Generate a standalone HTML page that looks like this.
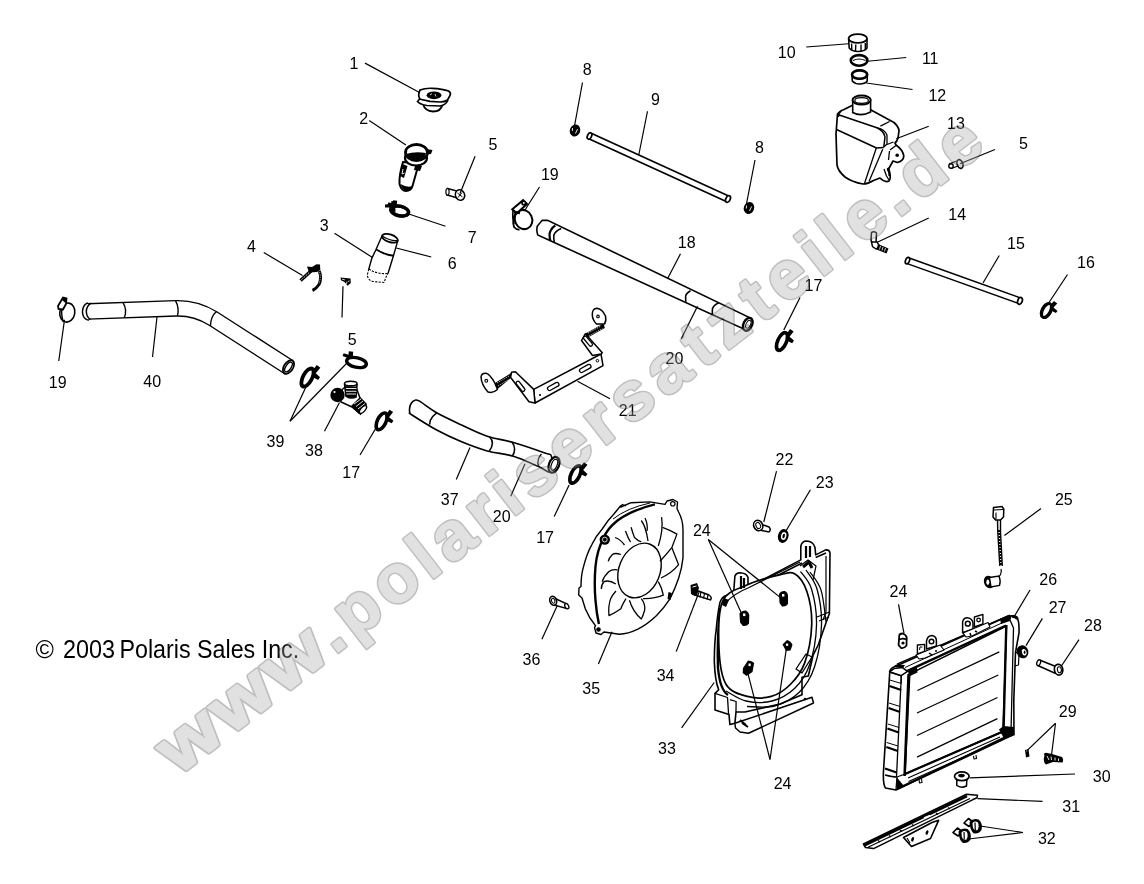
<!DOCTYPE html>
<html><head><meta charset="utf-8"><style>
html,body{margin:0;padding:0;background:#fff;width:1144px;height:884px;overflow:hidden}
svg{display:block;will-change:transform}
.o{fill:#fff;stroke:#000}
.l{fill:none;stroke:#000}
.d{fill:#000;stroke:#000;stroke-width:1}
.ld line{stroke:#000;stroke-width:1.2}
.lb{font-family:"Liberation Sans",sans-serif;font-size:16px;fill:#000;text-anchor:middle}
</style></head><body>
<svg width="1144" height="884" viewBox="0 0 1144 884">
<rect width="1144" height="884" fill="#fff"/>
<g class="parts">
<!-- Hose 40 -->
<g>
<path d="M 87.5 311.4 L 176 308.3 Q 196 307.8 213 318.5 L 288.5 367" stroke="#000" stroke-width="16.8" fill="none"/>
<path d="M 87.5 311.4 L 176 308.3 Q 196 307.8 213 318.5 L 288.5 367" stroke="#fff" stroke-width="14" fill="none"/>
<path d="M 88 303 Q 85 303.5 83.5 307 Q 81.5 311.5 83.5 316.5 Q 85.5 320 89 320" fill="#fff" stroke="#000" stroke-width="1.5"/>
<path d="M 91 303.2 Q 86.5 306 86.3 311.5 Q 86.5 317 90.5 319.6" fill="none" stroke="#000" stroke-width="1.5"/>
<ellipse cx="288.5" cy="367" rx="4.5" ry="7.6" transform="rotate(33 288.5 367)" class="o" stroke-width="1.8"/>
<ellipse cx="288.5" cy="367" rx="2.6" ry="5.6" transform="rotate(33 288.5 367)" class="l" stroke-width="1.3"/>
<path d="M 123 302.6 Q 127.5 310 124.3 317.8" class="l" stroke-width="1.4"/>
<path d="M 175.5 300.6 Q 179.5 308 177.5 315.8" class="l" stroke-width="1.4"/>
<path d="M 216.5 311.5 Q 210.5 316.5 210.5 326" class="l" stroke-width="1.4"/>
</g>
<!-- Hose 37 -->
<g>
<path d="M 419.0 400.9 C 422.7 402.9 429.7 408.8 436.7 412.8 C 443.7 416.8 452.6 420.8 461.0 424.7 C 469.4 428.6 478.5 433.2 487.2 436.2 C 495.9 439.2 503.8 439.7 513.4 442.5 C 523.0 445.3 538.5 450.7 544.9 453.0 C 551.2 455.3 550.6 453.3 551.5 456.5 C 552.4 459.7 552.6 470.3 550.5 472.0 C 548.4 473.7 544.8 469.2 538.6 466.6 C 532.4 464.0 522.0 458.8 513.4 456.2 C 504.8 453.6 495.9 453.3 487.2 450.9 C 478.5 448.4 469.4 445.0 461.0 441.5 C 452.6 438.0 444.9 434.4 436.7 430.0 C 428.5 425.6 416.5 417.9 412.0 415.0 C 407.5 412.1 410.2 413.8 409.8 412.5 C 409.4 411.2 409.5 408.6 409.8 407.0 C 410.1 405.4 410.7 404.1 411.5 403.0 C 412.3 401.9 413.2 401.0 414.5 400.6 C 415.8 400.2 415.3 398.9 419.0 400.9 Z" class="o" stroke-width="1.6"/>
<ellipse cx="554" cy="464.8" rx="5" ry="8.2" transform="rotate(22 554 464.8)" class="o" stroke-width="2.2"/>
<ellipse cx="554.3" cy="464.8" rx="2.8" ry="5.8" transform="rotate(22 554.3 464.8)" class="l" stroke-width="1.2"/>
<path d="M 436.7 412.8 Q 432.7 415.6 430.3 420.3 L 429.6 424.7" class="l" stroke-width="1.5"/>
<path d="M 489.5 437 Q 495.5 442.5 489.3 451" class="l" stroke-width="1.5"/>
<path d="M 512 442 Q 517 449 512.4 456.2" class="l" stroke-width="1.5"/>
<path d="M 541.5 454 Q 536.5 459 538.4 466.5" class="l" stroke-width="1.3"/>
</g>
<!-- Hose 18 -->
<g>
<path d="M 542.2 220.2 L 547.6 220.4 L 750 317.8 L 744.3 329.2 L 550.4 240.8 L 537.7 234.9 Q 536.3 231 537.2 226.3 Z" class="o" stroke-width="1.6"/>
<path d="M 555.3 225.4 Q 550.4 229 549.5 234 Q 549.5 238 550.4 240.8" fill="none" stroke="#000" stroke-width="2.2"/>
<path d="M 561.2 228.6 Q 555.3 231 553.8 235.3 Q 553.5 239 554.4 242" fill="none" stroke="#000" stroke-width="1.6"/>
<path d="M 690.5 290.8 Q 686 293.5 685.6 296.5 L 685.8 301.7" fill="none" stroke="#000" stroke-width="1.6"/>
<path d="M 718.5 303 Q 713.5 305 712.4 309 L 712.3 314" fill="none" stroke="#000" stroke-width="1.6"/>
<ellipse cx="747.8" cy="324.3" rx="4.3" ry="6.8" transform="rotate(25 747.8 324.3)" class="o" stroke-width="2.4"/>
<ellipse cx="748.3" cy="324.3" rx="2.2" ry="4.2" transform="rotate(25 748.3 324.3)" class="l" stroke-width="1"/>
</g>
<!-- Tube 9 -->
<g>
<path d="M 590 136 L 728 199" stroke="#000" stroke-width="7.6" fill="none"/>
<path d="M 590 136 L 728 199" stroke="#fff" stroke-width="4.2" fill="none"/>
<ellipse cx="589.5" cy="136" rx="2" ry="3.4" transform="rotate(25 589.5 136)" class="o" stroke-width="1.7"/>
<ellipse cx="728" cy="199" rx="2.2" ry="3.5" transform="rotate(25 728 199)" class="o" stroke-width="1.7"/>
</g>
<!-- Tube 15 -->
<g>
<path d="M 907.5 260.6 L 1020 300.9" stroke="#000" stroke-width="7.4" fill="none"/>
<path d="M 907.5 260.6 L 1020 300.9" stroke="#fff" stroke-width="4.4" fill="none"/>
<ellipse cx="907.5" cy="260.6" rx="2" ry="3.4" transform="rotate(20 907.5 260.6)" class="o" stroke-width="1.7"/>
<ellipse cx="1020" cy="300.9" rx="2.2" ry="3.5" transform="rotate(20 1020 300.9)" class="o" stroke-width="1.7"/>
</g>
<!-- Part 1 cap -->
<g>
<path d="M 423 104 Q 425 111 433 111.5 Q 441 111.5 442.5 104.5" class="o" stroke-width="1.8"/>
<path d="M 420 98.5 L 417.5 101.5 Q 420 104.5 427 105.5 L 440 106 Q 446 105 448 100" class="o" stroke-width="1.6"/>
<path d="M 420 90 Q 425 88 432 88.3 Q 443 88.8 448.5 91 Q 451.5 93 450 95.5 L 447.5 100 Q 445 102 440 102 L 430 101.3 L 420.5 99.3 Q 418 97 419 93 Z" class="o" stroke-width="1.7"/>
<ellipse cx="434" cy="95.3" rx="7.4" ry="3.9" fill="#000"/>
<path d="M 430 95 L 432 93.5 M 435 94 L 436 96.5" stroke="#fff" stroke-width="0.8"/>
</g>
<!-- Part 2 filler neck -->
<g>
<path d="M 403 162 Q 399 175 399.5 184 Q 401.5 191 406 191 Q 411 191 412.5 186 L 419 163 Z" class="o" stroke-width="2"/>
<path d="M 400.5 184 Q 403 191 406 191 Q 411 191 412.5 186 Q 407 188 400.5 184 Z" fill="#000"/>
<path d="M 402.5 164 L 400 176 L 404 178 L 407.5 166 Z" fill="#000"/><path d="M 403 169 L 402 174 L 404.5 173" stroke="#fff" stroke-width="0.9" fill="none"/><path d="M 415 166 L 422 166 L 420 171 L 414 170 Z" fill="#000"/>
<ellipse cx="416" cy="158" rx="11" ry="7.5" class="o" stroke-width="2.2"/>
<path d="M 426 149 L 432.5 150 L 431 154 L 426 154.5 Z" fill="#000"/>
<ellipse cx="416.5" cy="152.5" rx="11" ry="8" class="o" stroke-width="2.8"/>
<ellipse cx="416" cy="150.2" rx="8.5" ry="3.6" fill="#fff"/>
<path d="M 406 154 Q 415 151 426 153 Q 425 159 416 159.5 Q 408 159 406 154 Z" fill="#000"/>
</g>
<!-- 5 screw top -->
<g>
<path d="M 447.5 188.5 L 457 191 L 456 197.5 L 447 195 Z" class="o" stroke-width="1.4"/>
<ellipse cx="447.5" cy="191.8" rx="1.6" ry="3.3" class="o" stroke-width="1.2"/>
<ellipse cx="460" cy="195" rx="4.6" ry="5.4" transform="rotate(-20 460 195)" class="o" stroke-width="1.5"/>
<path d="M 457.5 193 L 462.5 197 M 462 192.5 L 458 197.5" class="l" stroke-width="1"/>
</g>
<!-- 7 clamp -->
<g>
<ellipse cx="399.5" cy="211" rx="9" ry="5" transform="rotate(12 399.5 211)" fill="none" stroke="#000" stroke-width="3.2"/>
<path d="M 385 204.5 L 391 204 L 391.5 201 L 395 201.5 L 395.5 212 L 391 211 L 389.5 207.5 L 385 207.5 Z" fill="#000"/>
</g>
<!-- 6 hose piece -->
<g fill="none" stroke="#000">
<path d="M 382.4 235 L 376 249.5 L 371.9 258.1 L 369 268 L 367.3 275 Q 368 280.5 373 281.5 L 384 282.5 L 386.3 276.5 L 388.5 270 L 393.6 255.3 L 397.8 240.6 Z" fill="#fff" stroke="none"/>
<path d="M 382.4 235 L 376 249.5 L 371.9 258.1 L 368.8 269" stroke-width="1.4"/>
<path d="M 397.8 240.6 L 393.6 255.3 L 388 273.5" stroke-width="1.4"/>
<path d="M 368.8 269 L 367.3 275 Q 368 280.5 373 281.5 L 384 282.5 L 386.3 276.5 L 388 273.5" stroke-width="1.1" stroke-dasharray="2.2 1.3"/>
<path d="M 368.8 269 Q 377 274.5 388 273.5" stroke-width="1.1" stroke-dasharray="2.2 1.3"/>
<path d="M 376.3 249.5 Q 384 254.5 393.6 255.7" stroke-width="2"/>
<ellipse cx="390" cy="238.3" rx="8.2" ry="3.8" transform="rotate(18 390 238.3)" stroke-width="1.8" fill="#fff"/>
<path d="M 383 236.5 Q 390 241 397 240.5" stroke-width="1.2"/>
</g>
<!-- 4 clip -->
<g>
<path d="M 300.5 280.5 L 311 271" stroke="#000" stroke-width="3.4" fill="none"/>
<path d="M 300.5 280.5 L 311 271" stroke="#fff" stroke-width="0.8" fill="none" stroke-dasharray="1.5 1"/>
<path d="M 307 266.5 L 312 267 L 316.5 264.3 L 320 264.5 L 320.3 270 L 317 272 L 309 272.5 Z" fill="#000"/>
<path d="M 319.3 271 Q 322 278 319 284.5 Q 316 289 312.5 290.5" stroke="#000" stroke-width="3" fill="none"/>
<path d="M 319.5 272 Q 321.5 278 318.7 284" stroke="#fff" stroke-width="0.7" fill="none" stroke-dasharray="1.2 1.2"/>
</g>
<!-- 5 small screw -->
<g>
<path d="M 340.5 277.6 L 350.5 278.5 L 350.8 283 L 347.6 285.8 L 344.5 282 L 341 280.2 Z" fill="#000"/>
<path d="M 342 279 L 345 280 M 347 281.5 L 346.5 284 M 349 280.5 L 348.7 282" stroke="#fff" stroke-width="0.8"/>
</g>
<!-- 19 clamp left -->
<g>
<ellipse cx="67.3" cy="312.6" rx="7.5" ry="9.6" transform="rotate(10 67.3 312.6)" class="o" stroke-width="1.6"/>
<path d="M 63.5 304 Q 60 312 63 321" class="l" stroke-width="1.4"/>
<path d="M 58 306 L 63 297.5 L 66.5 298.5 L 66 304 L 63 309.5 L 58.5 309 Z" class="o" stroke-width="1.8"/>
<path d="M 63 297.5 L 66.5 298.5 L 65.5 303 L 62 300 Z" fill="#000"/>
</g>
<!-- clamps type A (dark oval ring with tab) -->
<defs>
<g id="clA">
<ellipse cx="0" cy="0" rx="4.3" ry="9" fill="none" stroke="#000" stroke-width="3.6"/>
<path d="M 1 -7.5 L 2.2 -14 L 6.5 -13.3 L 5 -7 L 10.5 -5.5 L 10 -2.5 L 3.5 -2.5 Z" fill="#000"/>
</g>
<g id="clB">
<ellipse cx="0" cy="0" rx="10" ry="4.8" fill="none" stroke="#000" stroke-width="3.4"/>
<path d="M -8 -2.5 L -15 -3.5 L -14.5 -6.5 L -9.5 -6 L -9.8 -9.5 L -5.5 -9.8 L -4.5 -3 Z" fill="#000"/>
</g>
</defs>
<use href="#clA" transform="translate(381.6 421.4) rotate(25)"/>
<use href="#clA" transform="translate(307.5 377.5) rotate(28) scale(1.05 1.1)"/>
<use href="#clA" transform="translate(575.5 474.5) rotate(26) scale(1 1.05)"/>
<use href="#clA" transform="translate(782 341.5) rotate(24) scale(1 1.05)"/>
<use href="#clA" transform="translate(1046.5 310.5) rotate(28) scale(0.95 0.85)"/>
<use href="#clB" transform="translate(356.5 362.5) rotate(12)"/>
<use href="#clB" transform="translate(400 211) rotate(12) scale(0.9 0.95)"/>
<!-- 19 clamp mid -->
<g>
<ellipse cx="523.5" cy="219.5" rx="8.6" ry="9.8" transform="rotate(-25 523.5 219.5)" class="o" stroke-width="2"/>
<path d="M 517 211 Q 511.5 218 514 227 Q 516.5 230 519.5 229.5" class="l" stroke-width="1.8"/>
<path d="M 513 210 Q 512 217 514 224" class="l" stroke-width="1.6"/>
<path d="M 512.3 209.3 L 523.1 200.2 L 527 204 L 516.8 213.3 Z" class="o" stroke-width="2"/>
<circle cx="523.8" cy="203" r="2.6" fill="#000"/>
<circle cx="523.8" cy="203" r="0.9" fill="#fff"/>
<path d="M 514 212 L 520 213" stroke="#000" stroke-width="2.4"/>
</g>
<!-- 8 small clamps -->
<g>
<ellipse cx="575" cy="130.5" rx="5.2" ry="6" transform="rotate(20 575 130.5)" fill="#000"/>
<path d="M 572.5 128 L 572.3 131 M 577.5 129 L 575.5 133.5" stroke="#fff" stroke-width="0.9"/>
<ellipse cx="749" cy="208" rx="5.2" ry="6" transform="rotate(20 749 208)" fill="#000"/>
<path d="M 746.5 205.5 L 746.3 208.5 M 751.5 206.5 L 749.5 211" stroke="#fff" stroke-width="0.9"/>
</g>
<!-- 38 tee fitting -->
<g>
<path d="M 339 392 L 349 384 L 356 387 L 360 398 L 366 404 L 360.5 414 L 352 407 L 341 402 Z" class="o" stroke-width="1.5"/>
<path d="M 344.5 384 L 346 396 Q 351 399.5 356 397 L 357 384.5 Q 351 381 344.5 384 Z" class="o" stroke-width="1.6"/>
<ellipse cx="350.8" cy="383.5" rx="6.2" ry="2.3" class="o" stroke-width="1.5"/>
<path d="M 345 386 L 357 386.5 L 356.5 396.5 Q 351 399 346 396 Z" fill="#000"/><path d="M 346 388.5 L 356.5 388.5 M 346 391.3 L 356.5 391.3 M 346.3 394 L 356 394" stroke="#fff" stroke-width="0.9"/>
<path d="M 351 406 L 360 397 L 367 405 L 359 414 Z" fill="#000"/>
<path d="M 354 404 L 361 399 M 356 406.5 L 363 401 M 358 409 L 365 403.5" stroke="#fff" stroke-width="0.9"/>
<ellipse cx="363" cy="409.5" rx="2.2" ry="4.8" transform="rotate(40 363 409.5)" class="o" stroke-width="1.4"/>
<circle cx="337.5" cy="395" r="7.2" fill="#000"/>
<circle cx="334.5" cy="392" r="1.1" fill="#fff"/>
</g>
<!-- 21 bracket -->
<g stroke-linejoin="round">
<path d="M 533.7 389.4 L 601 354 L 603 365.6 L 535 403 Z" class="o" stroke-width="1.5"/>
<path d="M 511.5 372.3 L 515.4 371.8 L 533.7 389.4 L 535 403 L 529 401.7 L 510.5 377.2 Z" class="o" stroke-width="1.5"/>
<path d="M 494.6 383.3 L 511.5 372.8 L 511 378 L 497 389.4 Z" fill="#000"/>
<path d="M 497 383 L 509 376 M 498 386 L 509.5 379" stroke="#fff" stroke-width="0.7" stroke-dasharray="1.5 1"/>
<path d="M 481 377 Q 481.5 373 486 373.2 Q 490 374 494.8 383 L 497.5 389.5 Q 493 393.5 488 392 Q 481.5 385 481 377 Z" class="o" stroke-width="1.5"/>
<circle cx="486.3" cy="380.8" r="1.4" fill="none" stroke="#000" stroke-width="1.1"/>
<path d="M 581.5 340.5 L 585.3 333.8 L 602.3 352.7 L 601 354 L 592.5 355.5 Z" class="o" stroke-width="1.5"/>
<path d="M 585.1 333.8 L 603.5 323.4 L 604.8 328 L 588 337.5 Z" fill="#000"/>
<path d="M 588 333 L 601 326 M 589 336 L 602.5 328.5" stroke="#fff" stroke-width="0.7" stroke-dasharray="1.5 1"/>
<path d="M 592.3 315 Q 592 308.5 597 308.3 Q 602 308.8 605.5 316 Q 606.5 321 604.5 324 L 596.5 324 Q 592.5 320 592.3 315 Z" class="o" stroke-width="1.5"/>
<circle cx="598" cy="316.4" r="1.3" fill="none" stroke="#000" stroke-width="1.1"/>
<rect x="514.5" y="384.5" width="12" height="3.6" rx="1.8" transform="rotate(52 520.5 386.3)" class="o" stroke-width="1.3"/>
<rect x="547" y="384.5" width="12.5" height="4" rx="2" transform="rotate(-29 553.2 386.5)" class="o" stroke-width="1.3"/>
<rect x="579" y="366.5" width="12.5" height="4" rx="2" transform="rotate(-29 585.2 368.5)" class="o" stroke-width="1.3"/>
<rect x="582" y="339.5" width="12" height="3.4" rx="1.7" transform="rotate(50 588 341.2)" class="o" stroke-width="1.3"/>
<circle cx="540" cy="395" r="1.1" fill="#000"/>
<circle cx="597.4" cy="360.7" r="1.3" fill="none" stroke="#000" stroke-width="1"/>
</g>
<!-- 10 cap, 11 ring, 12 ring -->
<g>
<path d="M 848.6 38.5 L 849.2 48 Q 852 51.5 858 51.5 Q 864.5 51.5 867 48 L 867 38.5" class="o" stroke-width="1.6"/>
<ellipse cx="857.8" cy="38.5" rx="9.2" ry="4.4" class="o" stroke-width="1.8"/>
<path d="M 851.6 43.5 L 851.8 50 M 855.8 44.5 L 855.5 51 M 861 44.5 L 861 51 M 865.3 43 L 865.3 49.5" class="l" stroke-width="1.4"/>
<ellipse cx="859.1" cy="60.4" rx="8.3" ry="5.3" fill="none" stroke="#000" stroke-width="2.6"/>
<path d="M 853 60.5 Q 859 57.5 865.5 60.5" class="l" stroke-width="1.2"/>
<path d="M 852 74.5 L 852.3 81 Q 855 84 859.5 84 Q 865 84 867.2 81 L 867.3 74.5" class="o" stroke-width="1.6"/>
<ellipse cx="859.6" cy="74.6" rx="7.6" ry="4.2" fill="#fff" stroke="#000" stroke-width="2.6"/>
</g>
<!-- 13 tank -->
<g stroke-linejoin="round">
<path d="M 837.5 114 Q 840 110.5 844 109.5 L 852 105.5 L 871 110 L 894 122.5 Q 899 127 899 131 L 898 138 Q 897 141.5 895 143 L 896 145 Q 903 150 903.8 156 Q 903.5 161 897.5 162.5 L 893 161 L 888 170 Q 892 177 889 181 Q 885 183 880 178 L 873.5 180.5 Q 868 184 863 184 Q 852 182 845 177 Q 838 171 837 165 L 836 134 Z" class="o" stroke-width="1.7"/>
<path d="M 837.7 114.5 L 876.9 127.8 Q 884 131 885 137 L 883.8 147" class="l" stroke-width="1.5"/>
<path d="M 842 110 Q 838.5 113 838.5 117" class="l" stroke-width="1.3"/>
<path d="M 836.5 129.5 L 876.5 148 L 883.8 147.5" class="l" stroke-width="1.5"/>
<path d="M 876.3 148 L 864.5 183.5 M 882.7 149.2 L 869 181.5" class="l" stroke-width="1.3"/>
<path d="M 880.4 126.1 L 889.6 121.5 M 876.9 127.8 Q 884 128.5 887 135 L 887 144 L 883.8 147" class="l" stroke-width="1.3"/>
<path d="M 887 144.5 L 893.5 142" class="l" stroke-width="1.3"/>
<path d="M 890 150 L 896 145.5 M 889.5 151 L 888.5 160" class="l" stroke-width="1.3"/>
<circle cx="897.2" cy="155.3" r="1.8" fill="#000"/>
<path d="M 884 169 L 886.5 176 L 889 180" class="l" stroke-width="1.3"/>
<path d="M 887.5 168 Q 890 171 889.5 176" stroke="#000" stroke-width="2.2" fill="none"/>
<path d="M 852.7 100.5 L 852.7 112.5 Q 861 117 870.6 112 L 870.6 100.5" class="o" stroke-width="1.6"/>
<ellipse cx="861.6" cy="100.1" rx="9.1" ry="4.5" class="o" stroke-width="2"/>
<ellipse cx="861.6" cy="100.5" rx="6.8" ry="2.8" class="l" stroke-width="1.2"/>
</g>
<!-- 5 screw right -->
<g>
<path d="M 950 163.5 L 958.5 160.5 L 960.5 165 L 951.5 168.5 Z" class="o" stroke-width="1.3"/>
<circle cx="951" cy="166" r="2.2" class="o" stroke-width="1.4"/>
<ellipse cx="960" cy="164" rx="2.8" ry="4.5" transform="rotate(-20 960 164)" class="o" stroke-width="1.6"/>
</g>
<!-- 14 fitting -->
<g>
<path d="M 871.5 232.5 L 871 240 Q 871 242 873 243 L 876 243.5 L 876.5 233 Q 874 231 871.5 232.5 Z" class="o" stroke-width="1.5"/>
<path d="M 871.5 242 L 872.5 246.5 L 876 249 L 880 247 L 877 242 Z" class="o" stroke-width="1.4"/>
<path d="M 878 244 L 888.5 248.5 L 886.5 253.5 L 876.5 249.5 Z" fill="#000"/>
<path d="M 880.5 246 L 879.5 249.5 M 883 247 L 882 250.5 M 885.5 248 L 884.5 251.5" stroke="#fff" stroke-width="0.8"/>
</g>
<!-- 35 fan -->
<g stroke-linejoin="round">
<path d="M 620.9 507 L 631.1 502.7 L 649.8 501.9 L 665 504.4 L 667 501 L 673 499.5 L 677.5 502 L 677 508.5 L 678.6 512 Q 683 520 683 530 L 683 557.9 Q 682 568 678.6 578.3 Q 675 589 670.1 598.6 Q 664 608 656.6 615.6 Q 648 624 637.9 629.2 Q 628 634 619.2 634.3 L 604 632 L 601 634.5 L 596 633 L 594.5 627.5 L 595.5 625.8 Q 589 618 585.3 608.8 L 582 598 L 578.7 595 L 579 588 L 581 586.5 Q 581 575 583.6 566.4 Q 587 553 592 544.3 Q 596 536 602.2 529 Q 608 520 614.1 513.8 L 618 509 L 620.5 506 Z" class="o" stroke-width="1.4"/>
<path d="M 654.9 504.4 Q 632 510 617.5 520.5 Q 607 529 603.9 537.5 Q 597 550 595.5 566.4 Q 594 584 595.5 600.3 Q 596.5 613 598.9 624" fill="none" stroke="#000" stroke-width="2.4"/>
<path d="M 650 503 Q 627 508 613 519" fill="none" stroke="#000" stroke-width="1"/>
<ellipse cx="639.5" cy="570.5" rx="20.5" ry="28.3" transform="rotate(22 639.5 570.5)" class="o" stroke-width="1.4"/>
<g fill="none" stroke="#000" stroke-width="1.3">
<path d="M 641.3 520.5 Q 646 527 648 541"/>
<path d="M 645 518 Q 648 524 647 531"/>
<path d="M 661.6 517.2 Q 663.5 530 658.3 546"/>
<path d="M 662.5 527.3 Q 670 530 676.9 534.1 Q 674 542 671.8 547.7 Q 666 555 660 561.3"/>
<path d="M 672 548 L 678.6 564.7 Q 672 573 661 578"/>
<path d="M 658.3 581.7 Q 662 588 663.3 595.2 Q 654 599 643 598.6"/>
<path d="M 641.3 598.6 Q 645.5 604 644.7 610 Q 643 616 641.3 619 Q 633 612 629.4 600.3"/>
<path d="M 626 598.6 Q 622 605 620.9 608.8 Q 615 613 609 615.6 Q 608 606 610.7 598.6 Q 613 594 616 591"/>
<path d="M 615.8 584 Q 609 579.5 604 581.7 Q 601 585 601.4 589"/>
<path d="M 617.5 569.8 Q 612 569 609 571.5 Q 604 576 602.2 581.7"/>
<path d="M 620.9 554.5 Q 615 552.5 612.4 554.5 Q 609 558 608.2 561.3"/>
<path d="M 624.5 545 Q 620 539 615 537.5"/>
<path d="M 631.1 527.3 Q 633 534 634.5 537.5 Q 638 541 641.3 541.8"/>
<path d="M 625.5 531 Q 628 538 630.5 542"/>
</g>
<circle cx="604.8" cy="539.6" r="5.2" fill="#000"/>
<circle cx="604.8" cy="539.6" r="2.4" fill="none" stroke="#fff" stroke-width="0.8"/>
<circle cx="672.8" cy="503.8" r="2.2" fill="none" stroke="#000" stroke-width="1.2"/>
<path d="M 668.5 592 L 671.8 593 L 670.5 600 L 667.5 599 Z" fill="#000"/>
<circle cx="598.5" cy="629.5" r="2.3" fill="#000"/>
<path d="M 620 507 L 622.5 504.5 L 626 506" class="l" stroke-width="1.3"/>
</g>
<!-- 36 bolt -->
<g>
<path d="M 553 597.5 L 566 603.5 Q 568.5 606 566.5 608.5 L 552 604.5 Z" class="o" stroke-width="1.5"/>
<ellipse cx="566.8" cy="606.2" rx="1.8" ry="2.8" transform="rotate(-30 566.8 606.2)" class="o" stroke-width="1.3"/>
<ellipse cx="553.2" cy="600.8" rx="3.3" ry="4.6" transform="rotate(-20 553.2 600.8)" class="o" stroke-width="1.6"/>
<ellipse cx="553.2" cy="600.8" rx="1.6" ry="2.5" transform="rotate(-20 553.2 600.8)" class="l" stroke-width="1"/>
</g>
<!-- 34 bolt -->
<g>
<path d="M 693 589 L 709 595 Q 712.5 597.5 710.5 600 L 693 594.5 Z" class="o" stroke-width="1.5"/>
<path d="M 697.5 591 L 696.5 596 M 701 592 L 700 597.5 M 704.5 593.5 L 703.5 598.5 M 708 595 L 707 599.5" class="l" stroke-width="1.2"/>
<path d="M 690.5 585 L 697 583 L 699 588 L 696 596 L 691 594 Z" fill="#000"/>
<path d="M 692.5 587 L 696.5 586" stroke="#fff" stroke-width="0.9"/>
</g>
<!-- 22 bolt, 23 nut -->
<g>
<path d="M 758 523 L 769 527 Q 771.5 529.5 769 532 L 757 529.5 Z" class="o" stroke-width="1.5"/>
<ellipse cx="758.2" cy="525.5" rx="4.4" ry="5.4" transform="rotate(-25 758.2 525.5)" class="o" stroke-width="1.6"/>
<ellipse cx="758.2" cy="525.5" rx="2.2" ry="3.2" transform="rotate(-25 758.2 525.5)" class="l" stroke-width="1"/>
<ellipse cx="783.2" cy="536" rx="5.3" ry="7" transform="rotate(15 783.2 536)" fill="#000"/>
<ellipse cx="783.7" cy="536" rx="2.6" ry="4" transform="rotate(15 783.7 536)" fill="#fff"/>
<ellipse cx="783.7" cy="536" rx="1.2" ry="2.2" transform="rotate(15 783.7 536)" fill="#000"/>
</g>
<!-- 33 shroud -->
<g stroke-linejoin="round">
<path d="M 734.9 723.3 L 812 697.2 L 813.5 703 L 748.5 733.3 L 740 732 L 735.5 728 Z" class="o" stroke-width="1.5"/>
<path d="M 720 602.2 Q 722 597 726 595.5 L 733.6 593.5 L 734.9 576 Q 736 573 740 572.8 Q 746 573 748 577.3 L 748 587.3 L 800.8 559.9 L 800.8 546.2 Q 802 541 806.5 541 Q 813 541.2 815 547.4 L 815.7 554.9 L 825.7 549.9 Q 829.5 549.5 830 553 L 829.4 613.4 L 826.3 622.1 L 818.2 645 L 813.2 654.9 L 808.3 676 L 802 677.3 L 802 694.7 L 780 704 L 745 712 L 736 712 L 734.9 723.3 L 729.9 724.6 L 729 714.6 L 715 710 L 715 693.4 L 718.7 689.7 Q 715 681 714.3 661.1 Q 714.5 640 716.2 630 Q 717.5 614 720 602.2 Z" class="o" stroke-width="1.6"/>
<path d="M 715 693.4 L 727.5 697.5 L 728.6 714.6" class="l" stroke-width="1.3"/>
<path d="M 729.9 699.7 L 736.1 701.5 L 736 712" class="l" stroke-width="1.3"/>
<path d="M 724 603 Q 734 594 748 587.3" class="l" stroke-width="1.2"/>
<path d="M 748 590.5 L 802 563 M 815.7 557.5 L 826 553" class="l" stroke-width="1.5"/>
<path d="M 826 556 L 826 612 L 823 620" class="l" stroke-width="1.2"/>
<path d="M 720 608 Q 717 640 718 668 Q 720 690 728 695" class="l" stroke-width="2.4"/>
<path d="M 723 607 Q 727 598 740 594" class="l" stroke-width="1.2"/>
<path d="M 722.6 601.3 C 727.4 590.6 738.2 589.1 747.5 584.7 C 756.8 580.4 770.5 577.0 778.4 575.2 C 786.3 573.4 790.2 571.2 795.0 574.0 C 799.8 576.8 804.2 583.3 807.0 591.8 C 809.8 600.3 812.1 613.1 811.7 625.0 C 811.3 636.9 808.2 653.2 804.6 663.1 C 801.0 673.0 795.8 679.0 790.3 684.5 C 784.8 690.0 778.4 694.4 771.3 696.4 C 764.2 698.4 755.0 698.4 747.5 696.4 C 740.0 694.4 730.9 692.4 726.1 684.5 C 721.4 676.6 719.6 662.7 719.0 648.8 C 718.4 634.9 717.9 612.0 722.6 601.3 Z" class="o" stroke-width="1.7"/>
<path d="M 800.5 571.5 C 802.3 574.4 808.8 580.1 811.5 589.0 C 814.2 597.9 816.8 612.3 816.5 625.0 C 816.2 637.7 813.2 654.4 809.5 665.0 C 805.8 675.6 800.8 682.5 794.5 688.5 C 788.2 694.5 780.1 698.9 772.0 701.0 C 763.9 703.1 753.7 702.7 746.0 701.0 C 738.3 699.3 729.3 692.7 726.0 691.0" class="l" stroke-width="1.3"/>
<path d="M 806.0 570.0 C 807.8 573.2 814.4 579.8 817.0 589.0 C 819.6 598.2 821.9 612.0 821.5 625.0 C 821.1 638.0 818.2 655.8 814.5 667.0 C 810.8 678.2 805.7 686.0 799.0 692.5 C 792.3 699.0 783.2 703.7 774.5 706.0 C 765.8 708.3 751.6 706.4 747.0 706.5" class="l" stroke-width="1.3"/>
<path d="M 810.0 572.0 C 811.8 575.0 818.3 581.7 821.0 590.0 C 823.7 598.3 825.2 616.7 826.0 622.0" class="l" stroke-width="1.2"/>
<path d="M 724 604 Q 735 593 748 588 L 800 562" class="l" stroke-width="1.2"/>
<path d="M 796 669 L 806 654 L 812 657 L 802 673 Z" class="l" stroke-width="1.3"/>
<path d="M 800 566 L 808 560 L 816 566 L 813 580" class="l" stroke-width="1.2"/>
<path d="M 803 567 L 809 562 L 812 568" stroke="#000" stroke-width="3" fill="none"/>
<path d="M 817 617 L 829.5 612" class="l" stroke-width="1.2"/>

<path d="M 819 621 L 829 617" class="l" stroke-width="1.2"/>
<path d="M 740 720 L 746 725 M 742 723 L 748 727" stroke="#000" stroke-width="2"/>
<circle cx="805" cy="699" r="1.3" fill="#000"/>
<path d="M 741 576 L 741 589 M 744 578 L 744 588" stroke="#000" stroke-width="2.2"/>
<path d="M 806 546 L 806 558 M 810 546 L 810 557" stroke="#000" stroke-width="2.2"/>
<path d="M 724 598 L 722 605 L 726 607 L 729 600 Z" fill="#000"/>
</g>
<!-- 24 tabs on shroud -->
<g>
<path d="M 779 594 Q 781 590.5 785 591 Q 788 592.5 788 596 L 788 604 Q 786 607 782 606.5 L 779.5 603 Z" fill="#000"/>
<rect x="782" y="594" width="2.4" height="2.6" fill="#fff"/>
<path d="M 739.5 613.5 Q 741.5 610.5 746 610.5 Q 749 612 749.3 615 L 749 623.5 Q 747 626.5 743 626 L 740 622.5 Z" fill="#000"/>
<rect x="743" y="613.5" width="2.4" height="2.6" fill="#fff"/>
<path d="M 782.5 644.5 L 787 640 Q 791 641 792.5 645 L 790.5 650.5 L 786 651 Z" fill="#000"/>
<rect x="786" y="643.5" width="2.2" height="2.4" fill="#fff"/>
<path d="M 743 668 L 748 660.5 Q 752 660.5 754.2 663 L 752.5 672 L 746.5 676 L 742.7 673 Z" fill="#000"/>
<rect x="748.5" y="663.5" width="2.2" height="2.6" fill="#fff"/>
</g>
<!-- 26 radiator -->
<g stroke-linejoin="round">
<path d="M 889.8 671.5 Q 890.5 668 895 666.5 L 1004 618 Q 1010 614 1016.5 617 Q 1019.5 620 1019 632.8 L 1015.5 652.4 L 1013.8 700 L 1014 734.8 L 1003 738 L 896 790 L 885.5 788 Q 883 785 883.4 772.5 L 889.8 671.5 Z" class="o" stroke-width="1.6"/>
<path d="M 909.8 673.8 L 905 774 L 1003 731.5 L 1006.5 626 Z" class="o" stroke-width="1.5"/>
<path d="M 908.6 674 L 904.6 776" stroke="#000" stroke-width="2.6"/>
<path d="M 1006.3 625 L 1003.5 732" stroke="#000" stroke-width="2.4"/>
<path d="M 1010 620 L 1013.5 628 L 1011 732" class="l" stroke-width="1.3"/>
<path d="M 901.5 672 L 896.5 777" class="l" stroke-width="1.3"/>
<path d="M 897 664.2 L 1009.8 615.1" class="l" stroke-width="1.3"/>
<path d="M 907.5 670.8 L 1006 625.5" stroke="#000" stroke-width="2.4"/>
<path d="M 905 667.5 L 1004 622" class="l" stroke-width="1"/>
<path d="M 892 670.5 Q 896 673 901.5 672.5 L 907.5 670.8" class="l" stroke-width="1.5"/>
<path d="M 895 667 Q 893 665.5 897 664.5 L 905 665 L 903 668" fill="#000"/>
<path d="M 889.5 686 L 901.2 690 M 888.6 708 L 900 712 M 887.4 728.5 L 898.8 732.5 M 886.3 747 L 897.8 751 M 885 768.5 L 896.6 772.5" stroke="#000" stroke-width="2.2"/>
<path d="M 889.8 680 L 901.4 683.5 M 888.9 703 L 900.2 706.5 M 887.8 724 L 899.2 727.5 M 886.7 742.5 L 898 746" class="l" stroke-width="1"/>
<path d="M 889.5 671.8 L 894 668.6 L 902.5 667.6 L 907.5 671.4 L 901.2 675.6 Z" class="o" stroke-width="1.5"/>
<path d="M 889.5 672.2 L 901.2 675.8 L 901.2 683" class="l" stroke-width="1.3"/>
<path d="M 908 670.8 L 916.8 667 L 917.5 672.5 L 909 676.5 Z" fill="#000"/>
<path d="M 885 775 Q 893 777 896.5 777" class="l" stroke-width="1.3"/>
<path d="M 896 790 L 897 777 L 905 774" class="l" stroke-width="1.3"/>
<path d="M 905 774 L 1003 731.5" stroke="#000" stroke-width="2.2"/>
<path d="M 908 778 L 1000 737 M 908.5 781.5 L 1001 740.5" class="l" stroke-width="1.1"/>
<path d="M 897 789 L 1012 735" stroke="#000" stroke-width="2.4"/>
<path d="M 896.5 777 L 904 786 L 897 789" fill="#000"/>
<path d="M 999 729.5 L 1003.5 726 L 1013.8 727 L 1013.8 734.5 L 1004 738.5 Z" fill="#000"/>
<path d="M 917.4 690.5 L 999.3 651.8 M 917 713 L 998.3 675 M 917 735.5 L 997.5 697.5 M 917 757.1 L 997.4 718.7" class="l" stroke-width="1.3"/>
<path d="M 1015.5 652.4 L 1019 653 L 1018.5 665 L 1014.7 666" class="l" stroke-width="1.2"/>
<path d="M 1012 617 Q 1015 615.5 1017.5 619" stroke="#000" stroke-width="3" fill="none"/>
<path d="M 1000 618.5 L 1012 615.5 L 1010 621 L 1001 624 Z" fill="#000"/>
<path d="M 973.5 755.8 L 974 759 L 976.5 758.5 L 976 755" class="l" stroke-width="1.1"/>
<path d="M 919 779.5 L 919.5 783 L 922 782.5 L 921.5 779" class="l" stroke-width="1.1"/>
<!-- top brackets -->
<path d="M 917.4 654 L 917.4 645 L 924.6 644.4 L 924.6 651.5 Z" class="o" stroke-width="1.4"/>
<path d="M 926.5 649 L 926.5 641 Q 927.5 635.5 932 635.4 Q 936.5 636 936.4 641 L 936.4 646 Z" class="o" stroke-width="1.5"/>
<circle cx="931.5" cy="641.5" r="2.3" class="o" stroke-width="1.5"/>
<path d="M 919.5 650 L 920 647 L 922.5 647" class="l" stroke-width="1"/>
<path d="M 916 655 L 926 651 L 940 645 L 944 650 L 925 658 L 919 659 Z" class="o" stroke-width="1.2"/>
<path d="M 929 653 L 932 655 M 936 650 L 936 652" stroke="#000" stroke-width="1.5"/>
<path d="M 962.6 632.8 L 962.6 622 Q 963.5 617.5 967.5 617.7 Q 972.5 618.5 973 623 L 973 629 Z" class="o" stroke-width="1.5"/>
<circle cx="967.8" cy="623.7" r="2.4" class="o" stroke-width="1.5"/>
<path d="M 974.4 627 L 974.4 617 L 982.9 614.4 L 982.9 624 Z" class="o" stroke-width="1.4"/>
<circle cx="978.6" cy="620" r="1.8" class="o" stroke-width="1.3"/>
<path d="M 963 633 L 975 628 L 988 622.5 L 990 627 L 972 636 L 966 637 Z" class="o" stroke-width="1.2"/>
<path d="M 970 633 L 971 636 M 975 631 L 977 632" stroke="#000" stroke-width="1.5"/>
</g>
<!-- 24 nut on radiator -->
<g>
<path d="M 899.2 636 Q 899.5 633.5 902.5 633.5 Q 906 634.5 906.7 637.5 L 906.5 645.5 Q 904.5 648.5 901 648 L 898.6 645 Z" class="o" stroke-width="1.8"/>
<path d="M 899 640 Q 902 637.5 906.5 639.5" class="l" stroke-width="1.6"/>
<circle cx="903" cy="643" r="1.6" fill="#000"/>
</g>
<!-- 25 sensor -->
<g>
<path d="M 993.5 507.5 L 1002 506.5 L 1003.8 509 L 1003.5 517 L 1000.5 520 L 995.5 520 L 993 517 Z" class="o" stroke-width="1.5"/>
<path d="M 994 510 L 1003.5 509.5 M 996 512.5 L 996 519" class="l" stroke-width="1.1"/>
<path d="M 997.5 520 L 997.8 532 L 999.8 566 M 1000.5 520 L 1000.5 532 L 1002.3 566" stroke="#000" stroke-width="1.4" fill="none"/>
<path d="M 999.1 530 L 1001 566" stroke="#000" stroke-width="2" fill="none" stroke-dasharray="2 1"/>
<path d="M 1001 569 Q 1002 573 999 577" class="l" stroke-width="1.2"/>
<ellipse cx="989" cy="582" rx="5" ry="6.5" transform="rotate(-20 989 582)" fill="#000"/>
<path d="M 989.5 577.5 L 999 576 Q 1001 581 999.5 585.5 L 991 587 Z" class="o" stroke-width="1.4"/>
<ellipse cx="987.8" cy="582.2" rx="1.5" ry="2.8" fill="#fff"/>
</g>
<!-- 27 nut -->
<g>
<ellipse cx="1022.5" cy="651.8" rx="5.8" ry="6.6" transform="rotate(-15 1022.5 651.8)" fill="#000"/>
<ellipse cx="1024.2" cy="652.2" rx="2.3" ry="3.3" transform="rotate(-15 1024.2 652.2)" fill="#fff"/>
<ellipse cx="1024.6" cy="652.3" rx="0.9" ry="1.8" fill="#000"/>
</g>
<!-- 28 bolt -->
<g>
<path d="M 1039.5 660 L 1057 667 L 1054.5 673 L 1037.8 665.5 Z" class="o" stroke-width="1.5"/>
<ellipse cx="1038.7" cy="662.7" rx="1.8" ry="3" transform="rotate(20 1038.7 662.7)" class="o" stroke-width="1.3"/>
<ellipse cx="1058.6" cy="669.7" rx="4.2" ry="5.4" transform="rotate(-10 1058.6 669.7)" class="o" stroke-width="1.7"/>
<ellipse cx="1059.4" cy="669.7" rx="2" ry="3" transform="rotate(-10 1059.4 669.7)" class="l" stroke-width="1.1"/>
</g>
<!-- 29 clip and bolt -->
<g>
<path d="M 1025 750 L 1028.5 749.3 L 1029.5 756.5 L 1026 757.5 Z" fill="#000"/>
<path d="M 1026.2 751 L 1027.5 750.8" stroke="#fff" stroke-width="0.8"/>
<path d="M 1044.5 755.5 Q 1043 753 1046 752.8 L 1052 754 L 1062 757 Q 1064 759.5 1062.5 762.5 L 1053 762 L 1046 764.5 Q 1042.5 762 1044.5 755.5 Z" fill="#000"/>
<path d="M 1047 756 L 1049 760 M 1051 756.5 L 1051.5 760 M 1055 757.5 L 1055 760.5 M 1058.5 758.5 L 1058.5 761" stroke="#fff" stroke-width="0.9"/>
</g>
<!-- 30 bushing -->
<g>
<path d="M 956.8 780 L 956.8 785.5 Q 961 788.5 966.5 786 L 966.8 780" class="o" stroke-width="1.5"/>
<ellipse cx="961.8" cy="776.3" rx="7.3" ry="4.4" class="o" stroke-width="1.7"/>
<ellipse cx="961.5" cy="775.6" rx="3.3" ry="1.8" fill="#000"/>
<path d="M 955 778.5 Q 961.5 782.5 968.5 778.5" class="l" stroke-width="1.2"/>
</g>
<!-- 31 bracket -->
<g stroke-linejoin="round">
<path d="M 903.5 837.5 L 911.5 846.5 L 930.5 838.5 L 938.6 820.3 L 932 822.5 Z" class="o" stroke-width="1.6"/>
<path d="M 907 838 L 910 843" class="l" stroke-width="1.2"/>
<ellipse cx="912.6" cy="839.3" rx="1.3" ry="2.4" transform="rotate(20 912.6 839.3)" fill="#000"/>
<ellipse cx="927" cy="832.5" rx="1.3" ry="2.4" transform="rotate(20 927 832.5)" fill="#000"/>
<path d="M 863.4 844 L 966.5 794.3 L 977.5 795.2 L 977 797.8 L 972.5 799.8 L 873.6 848.6 L 865.5 847.5 Z" class="o" stroke-width="1.5"/>
<path d="M 864 845.5 L 967 796" stroke="#000" stroke-width="2.6"/>
<path d="M 868 847.2 L 970 798.5" stroke="#000" stroke-width="1.2"/>
<path d="M 878 840.5 L 880 842 M 889 835.5 L 891 837 M 900 830 L 902 831.5 M 912 824.5 L 914 826 M 936 813 L 938 814.5 M 948 807.5 L 950 809" stroke="#000" stroke-width="1.2"/>
<path d="M 924 818 L 930 815.5" stroke="#fff" stroke-width="1.4"/>
</g>
<!-- 32 bolts -->
<g stroke-linejoin="round">
<path d="M 964 823 L 968.5 818.5 L 973 822 L 969 826.5 Z" class="o" stroke-width="1.6"/>
<path d="M 969.5 822 Q 973 818 978.5 819.5 Q 983 823 981.5 830 Q 979 834 974 833.5 Q 970 831 969.5 822 Z" fill="#000"/>
<path d="M 972.5 823 Q 975 820.5 978 822.5 Q 979.5 826.5 977.5 830 Q 974 831 972.8 827 Z" fill="#fff"/>
<path d="M 975 822.5 L 975.3 830" stroke="#000" stroke-width="1.2"/>
<path d="M 953 832.5 L 957.5 828 L 962 831.5 L 958 836 Z" class="o" stroke-width="1.6"/>
<path d="M 958.5 831.5 Q 962 827.5 967.5 829 Q 972 832.5 970.5 839.5 Q 968 843.5 963 843 Q 959 840.5 958.5 831.5 Z" fill="#000"/>
<path d="M 961.5 832.5 Q 964 830 967 832 Q 968.5 836 966.5 839.5 Q 963 840.5 961.8 836.5 Z" fill="#fff"/>
<path d="M 964 832 L 964.3 839.5" stroke="#000" stroke-width="1.2"/>
</g>

</g>
<g class="ld">
<line x1="365" y1="63.1" x2="419.5" y2="92.5"/>
<line x1="369.2" y1="120.6" x2="405.9" y2="145"/>
<line x1="475.1" y1="156.3" x2="460" y2="193.6"/>
<line x1="334.5" y1="233.25" x2="372.5" y2="257.5"/>
<line x1="263.75" y1="252.5" x2="302.5" y2="275.5"/>
<line x1="445.5" y1="226.25" x2="408" y2="213.75"/>
<line x1="431.25" y1="257" x2="396.25" y2="248"/>
<line x1="342" y1="317.5" x2="343" y2="286.25"/>
<line x1="58.75" y1="361" x2="64.5" y2="319.75"/>
<line x1="152.5" y1="357" x2="157" y2="317"/>
<line x1="290" y1="421.25" x2="306.25" y2="386.25"/>
<line x1="290" y1="421.25" x2="346.25" y2="363.75"/>
<line x1="324.5" y1="431.25" x2="339.5" y2="402.5"/>
<line x1="360" y1="455" x2="376.25" y2="427.5"/>
<line x1="456.25" y1="479.5" x2="470" y2="447.5"/>
<line x1="510.75" y1="496.25" x2="525" y2="463.75"/>
<line x1="582.5" y1="82.5" x2="573.75" y2="130"/>
<line x1="647.5" y1="111.25" x2="638.75" y2="155"/>
<line x1="755" y1="160" x2="746.25" y2="205"/>
<line x1="539.5" y1="187" x2="525" y2="210"/>
<line x1="680.5" y1="253.75" x2="667.5" y2="278.75"/>
<line x1="800" y1="297.5" x2="783.75" y2="330"/>
<line x1="681.25" y1="338.75" x2="697.5" y2="306.25"/>
<line x1="610" y1="398.75" x2="577.5" y2="381.25"/>
<line x1="806.25" y1="47" x2="848.75" y2="43.75"/>
<line x1="867.5" y1="61.25" x2="906.25" y2="57.5"/>
<line x1="866.25" y1="83" x2="912.5" y2="89.5"/>
<line x1="896.25" y1="138.75" x2="928.75" y2="126.25"/>
<line x1="960" y1="163.75" x2="995" y2="149.5"/>
<line x1="876.75" y1="242.5" x2="928.75" y2="218"/>
<line x1="999.25" y1="255.5" x2="983" y2="283"/>
<line x1="1067.5" y1="274.5" x2="1049" y2="302.5"/>
<line x1="776.5" y1="471.1" x2="763.8" y2="522"/>
<line x1="810.4" y1="489.8" x2="785.8" y2="531.3"/>
<line x1="708.3" y1="539.5" x2="744" y2="619"/>
<line x1="708.3" y1="539.5" x2="782" y2="598.9"/>
<line x1="1041" y1="508.5" x2="1004.4" y2="535.6"/>
<line x1="1030" y1="590" x2="1013.9" y2="617"/>
<line x1="898.5" y1="604.3" x2="904" y2="633.4"/>
<line x1="1042.4" y1="618.4" x2="1026" y2="645.6"/>
<line x1="1079" y1="639.6" x2="1061.4" y2="666"/>
<line x1="541.9" y1="639.2" x2="557.3" y2="605.6"/>
<line x1="598.4" y1="664" x2="612" y2="631.7"/>
<line x1="676.2" y1="651.6" x2="699.1" y2="592"/>
<line x1="681.6" y1="727.8" x2="714.2" y2="682.5"/>
<line x1="770" y1="759.5" x2="747.7" y2="672.6"/>
<line x1="770" y1="759.5" x2="786.6" y2="647.2"/>
<line x1="1055.5" y1="723.2" x2="1027" y2="750.6"/>
<line x1="1055.5" y1="723.2" x2="1051.6" y2="754.5"/>
<line x1="969.7" y1="777.9" x2="1075" y2="774"/>
<line x1="977.5" y1="798.7" x2="1042.5" y2="801.3"/>
<line x1="1023" y1="832.5" x2="980" y2="826"/>
<line x1="1023" y1="832.5" x2="968.4" y2="839"/>
<line x1="554.2" y1="516.6" x2="569.1" y2="485"/>

</g>
<g class="lb" opacity="0.999">
<text x="353.9" y="69.4">1</text>
<text x="363.6" y="124.0">2</text>
<text x="492.9" y="150.2">5</text>
<text x="324.2" y="231.3">3</text>
<text x="251.4" y="251.6">4</text>
<text x="472.2" y="243.1">7</text>
<text x="452.2" y="269.4">6</text>
<text x="352.2" y="344.6">5</text>
<text x="57.7" y="387.6">19</text>
<text x="152.2" y="386.6">40</text>
<text x="275.4" y="446.6">39</text>
<text x="313.9" y="455.6">38</text>
<text x="351.2" y="478.1">17</text>
<text x="449.7" y="504.6">37</text>
<text x="501.7" y="521.6">20</text>
<text x="587.2" y="74.8">8</text>
<text x="655.4" y="104.6">9</text>
<text x="759.4" y="153.1">8</text>
<text x="549.8" y="179.6">19</text>
<text x="686.7" y="248.1">18</text>
<text x="813.4" y="290.6">17</text>
<text x="674.4" y="364.4">20</text>
<text x="627.7" y="415.6">21</text>
<text x="786.7" y="58.1">10</text>
<text x="930.2" y="64.3">11</text>
<text x="937.3" y="100.6">12</text>
<text x="956.0" y="128.6">13</text>
<text x="1023.5" y="149.3">5</text>
<text x="957.2" y="220.1">14</text>
<text x="1015.9" y="248.6">15</text>
<text x="1086.0" y="268.1">16</text>
<text x="784.5" y="464.6">22</text>
<text x="824.7" y="487.8">23</text>
<text x="701.8" y="536.1">24</text>
<text x="1063.8" y="504.5">25</text>
<text x="1048.2" y="585.1">26</text>
<text x="898.4" y="597.3">24</text>
<text x="1057.6" y="613.1">27</text>
<text x="1092.9" y="631.3">28</text>
<text x="531.4" y="664.6">36</text>
<text x="591.2" y="694.0">35</text>
<text x="665.6" y="680.8">34</text>
<text x="666.9" y="754.3">33</text>
<text x="782.6" y="789.4">24</text>
<text x="1067.7" y="717.1">29</text>
<text x="1101.7" y="782.4">30</text>
<text x="1071.2" y="811.8">31</text>
<text x="1046.8" y="843.6">32</text>
<text x="545.1" y="542.8">17</text>

</g>
<g style="font-family:'Liberation Sans',sans-serif;font-size:26px;fill:#000" opacity="0.999">
<text transform="translate(35.6 658) scale(0.96 1)">©</text>
<text transform="translate(63 658) scale(0.9 1)">2003</text>
<text transform="translate(119.5 658) scale(0.895 1)">Polaris Sales Inc.</text>
</g>
<g opacity="0.349" transform="translate(190.1 766.1) rotate(-37.8)" style="font-family:'Liberation Sans',sans-serif;font-weight:bold;font-size:68px;letter-spacing:7.29px;stroke-linejoin:round">
<g style="fill:#4b4b4b;stroke:#4b4b4b;stroke-width:3.8">
<text transform="translate(-15.5 0.6) scale(1.159 1)" style="letter-spacing:4px;stroke-width:4.8">www</text>
<text x="182.35" y="0.9" dx="0 -1.5 -0.8 -0.8 -0.4 -0.5 -0.3 -0.3 -1.4 0.2 0.2 0.3 1.8 0.8 1.7 0.3 0.2 0.2 0.2 0.1 0 0">.polarisersatzteile.de</text>
</g>
<g style="fill:#acacac;stroke:#acacac;stroke-width:0.8">
<text transform="translate(-15.5 0.6) scale(1.159 1)" style="letter-spacing:4px;stroke-width:1.8">www</text>
<text x="182.35" y="0.9" dx="0 -1.5 -0.8 -0.8 -0.4 -0.5 -0.3 -0.3 -1.4 0.2 0.2 0.3 1.8 0.8 1.7 0.3 0.2 0.2 0.2 0.1 0 0">.polarisersatzteile.de</text>
</g>
</g>

</svg>
</body></html>
